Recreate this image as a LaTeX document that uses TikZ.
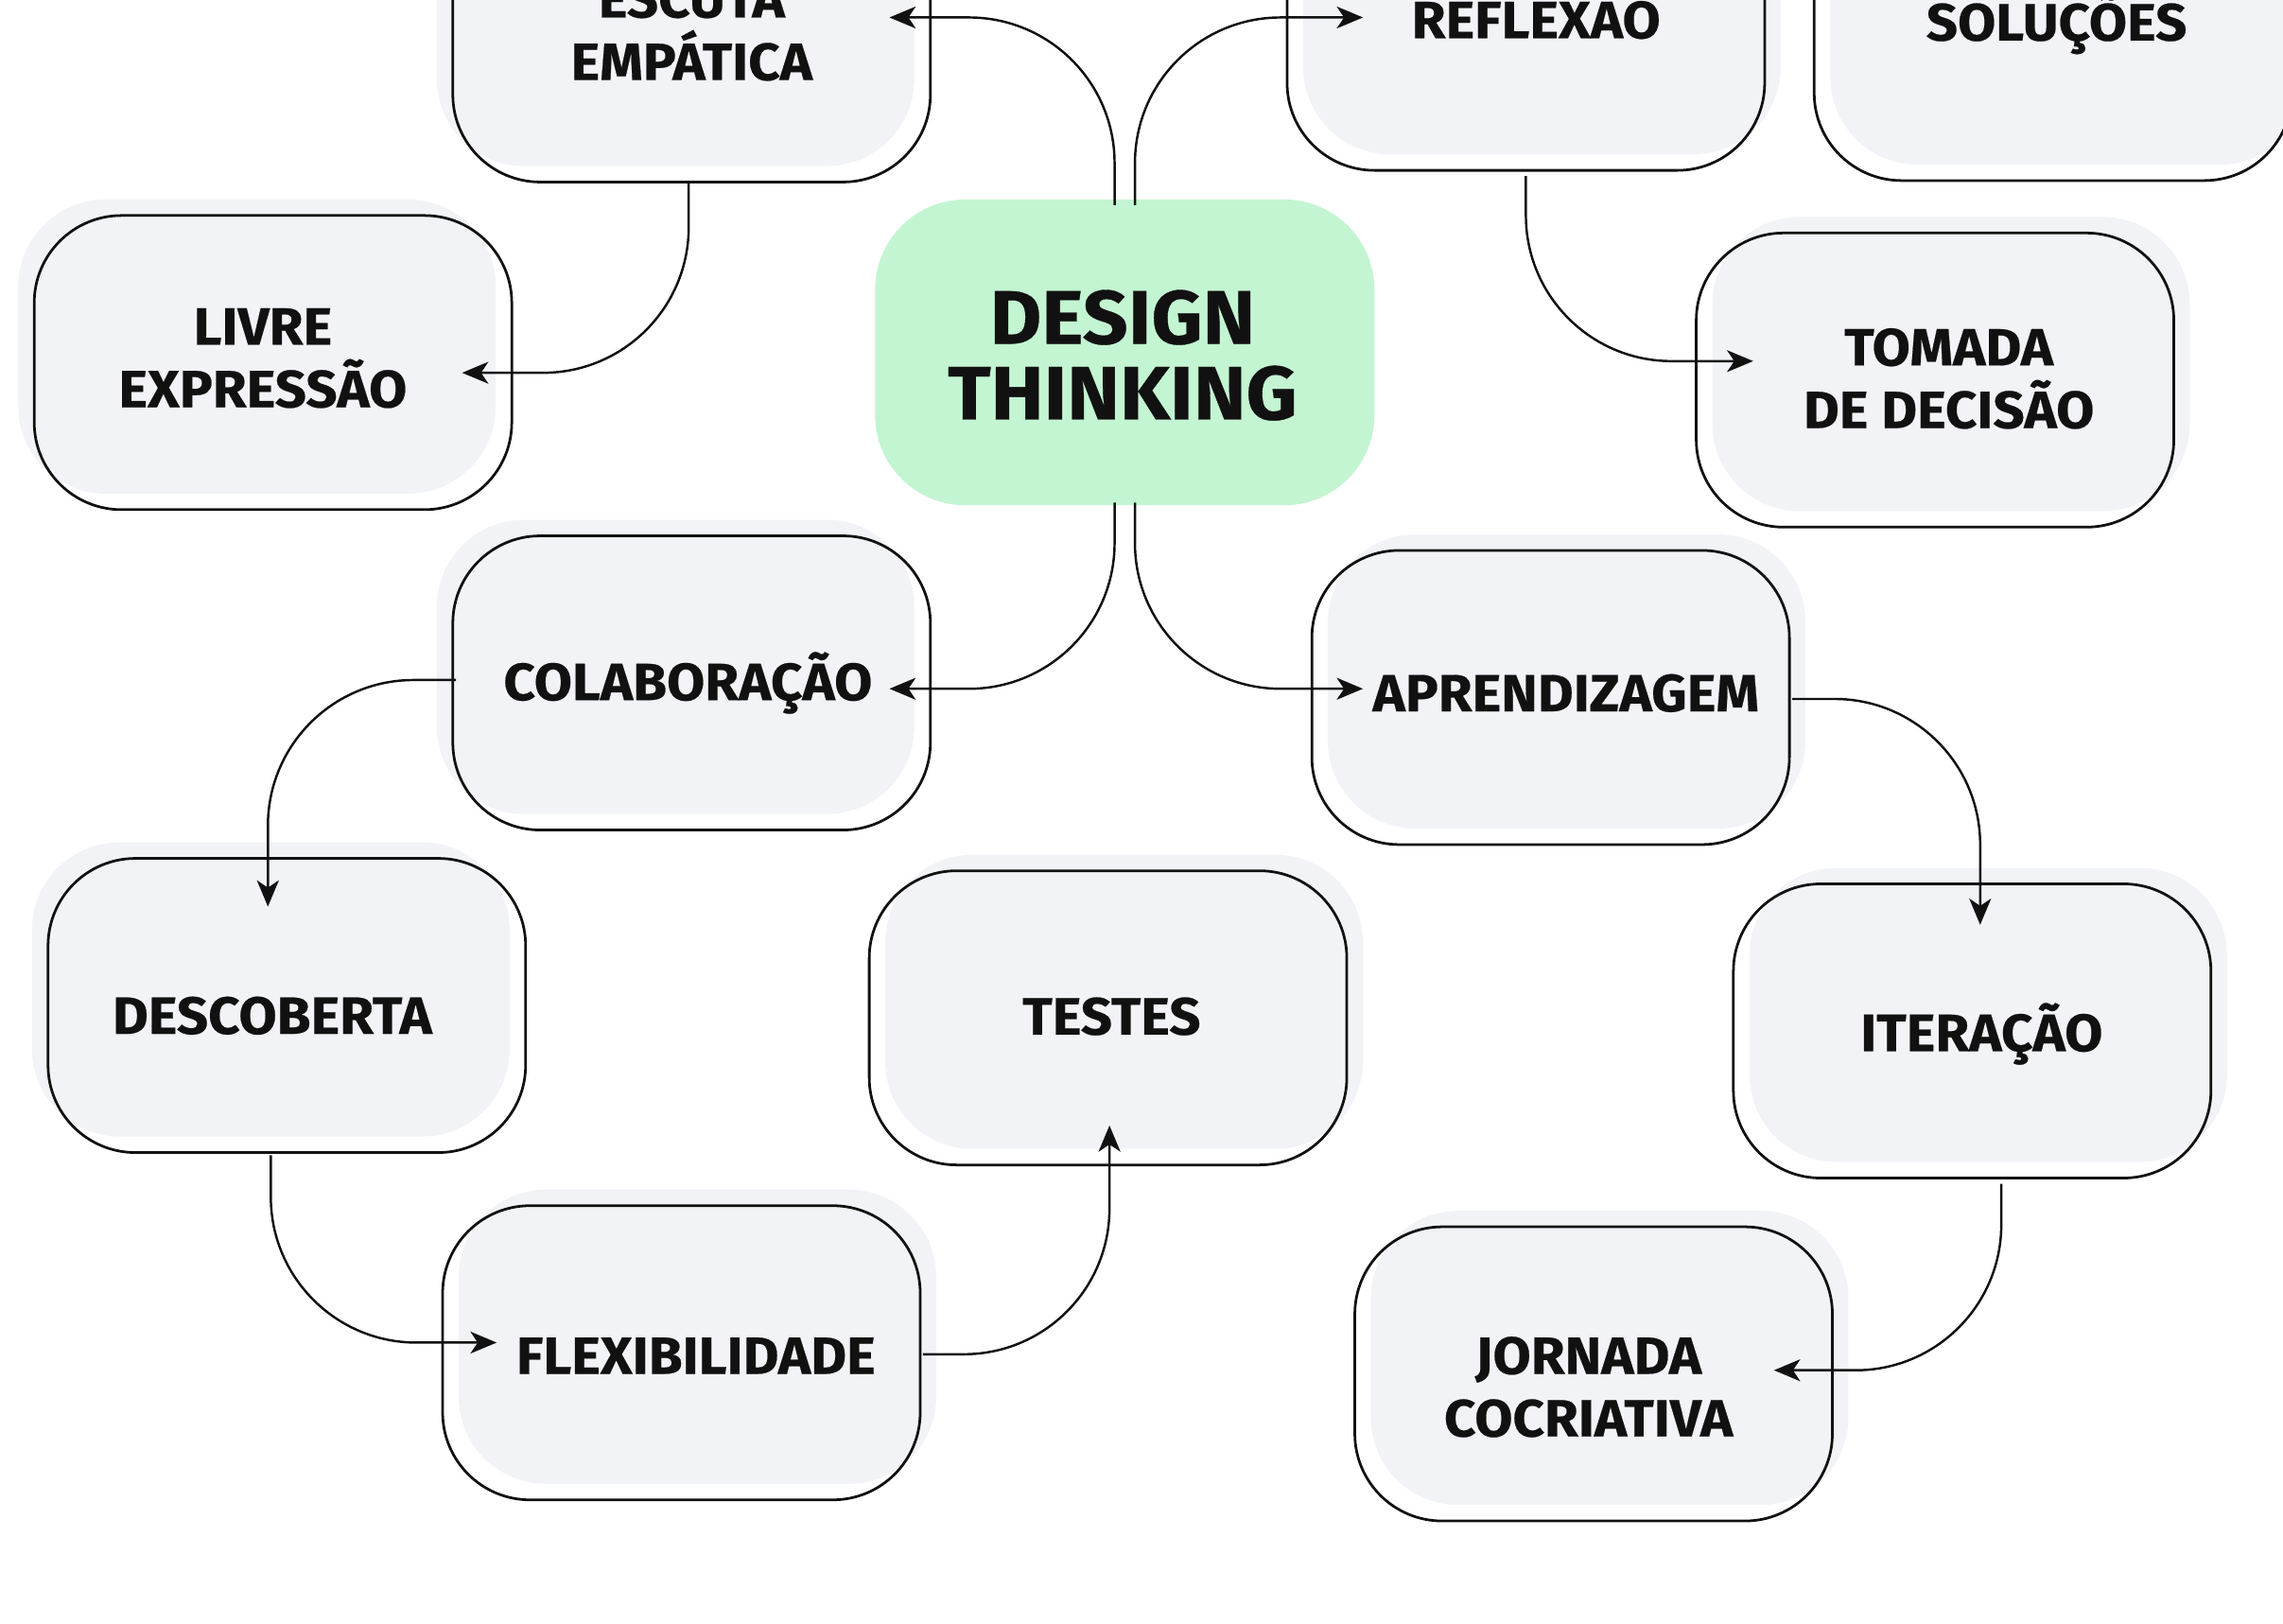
\documentclass[tikz,border=0pt]{standalone}
\usepackage{fontspec}
\setmainfont{Fira Sans}[FakeStretch=1.05, BoldFeatures={FakeBold=0.4}]
\usetikzlibrary{arrows.meta,calc}
\definecolor{boxfill}{RGB}{242,243,247}
\definecolor{hubfill}{RGB}{195,245,210}
\definecolor{ink}{RGB}{17,17,17}
\begin{document}
\begin{tikzpicture}[x=1pt,y=-1pt,
  box/.style={draw=ink, line width=1.8pt, rounded corners=60pt, minimum width=328pt, minimum height=202pt, inner sep=0pt},
  lshade/.style={preaction={fill=boxfill, draw=none, transform canvas={xshift=-11pt,yshift=11pt}}},
  rshade/.style={preaction={fill=boxfill, draw=none, transform canvas={xshift=11pt,yshift=11pt}}},
  lbl/.style={align=center, font=\fontsize{36}{43}\selectfont\bfseries, text=ink, inner sep=0pt},
  conn/.style={draw=ink, line width=1.6pt, rounded corners=100pt, -{Stealth[length=18pt,width=15pt,inset=5pt]}},
  hub/.style={fill=hubfill, rounded corners=62pt, minimum width=343pt, minimum height=210pt, inner sep=0pt},
  hublbl/.style={align=center, font=\fontsize{52}{52}\selectfont\bfseries, text=ink, inner sep=0pt}
]
\useasboundingbox (0,0) rectangle (1568,1115);
\clip (0,0) rectangle (1568,1115);

\node[hub] (hub) at (772.5,242) {};
\node[hublbl] (hubt) at (771,244) {DESIGN\\THINKING};

\node[box,lshade] (escuta)   at (475,24)     {};
\node[box,lshade] (livre)    at (187.5,249)  {};
\node[box,rshade] (reflexao) at (1048,16)    {};
\node[box,rshade] (solucoes) at (1410,23)    {};
\node[box,rshade] (tomada)   at (1329,261)   {};
\node[box,lshade] (colab)    at (475,469)    {};
\node[box,rshade] (aprend)   at (1065,479)   {};
\node[box,lshade] (descob)   at (197,690.5)  {};
\node[box,rshade] (testes)   at (761,699)    {};
\node[box,rshade] (iter)     at (1354.5,708) {};
\node[box,rshade] (flex)     at (468,929)    {};
\node[box,rshade] (jornada)  at (1094.5,943.5) {};

\node[lbl] (escutat)   at (475,21)      {ESCUTA\\EMPÁTICA};
\node[lbl] (livret)    at (180.5,246)   {LIVRE\\EXPRESSÃO};
\node[lbl] (reflexaot) at (1055,10)     {REFLEXÃO};
\node[lbl] (solucoest) at (1412.5,16)   {SOLUÇÕES};
\node[lbl] (tomadat)   at (1338.5,260)  {TOMADA\\DE DECISÃO};
\node[lbl] (colabt)    at (472.5,469)   {COLABORAÇÃO};
\node[lbl] (aprendt)   at (1075.5,476)  {APRENDIZAGEM};
\node[lbl] (descobt)   at (187,697.5)   {DESCOBERTA};
\node[lbl] (testest)   at (763.5,698)   {TESTES};
\node[lbl] (itert)     at (1361,710)    {ITERAÇÃO};
\node[lbl] (flext)     at (478,931)     {FLEXIBILIDADE};
\node[lbl] (jornadat)  at (1091,952.5)  {JORNADA\\COCRIATIVA};

\draw[conn] ($(hub.north)+(-7,4)$) |- ($(escuta.east)+(-29,-12)$);
\draw[conn] ($(hub.north)+(7,4)$) |- ($(reflexao.west)+(53,-4)$);
\draw[conn] ($(hub.south)+(-7,-2)$) |- ($(colab.east)+(-29,4)$);
\draw[conn] ($(hub.south)+(7,-2)$) |- ($(aprend.west)+(36,-6)$);
\draw[conn] ($(escuta.south)+(-2,0)$) |- ($(livre.east)+(-35,7)$);
\draw[conn] ($(reflexao.south)+(0,3)$) |- ($(tomada.west)+(40,-13)$);
\draw[conn] ($(colab.west)+(3,-2)$) -| ($(descob.north)+(-13,34)$);
\draw[conn] ($(aprend.east)+(1,1)$) -| ($(iter.north)+(5.5,29)$);
\draw[conn] ($(descob.south)+(-11,1)$) |- ($(flex.west)+(38,-7)$);
\draw[conn] ($(flex.east)+(1,1)$) -| ($(testes.south)+(1,-28)$);
\draw[conn] ($(iter.south)+(20,3)$) |- ($(jornada.east)+(-41,-2.5)$);
\end{tikzpicture}
\end{document}
